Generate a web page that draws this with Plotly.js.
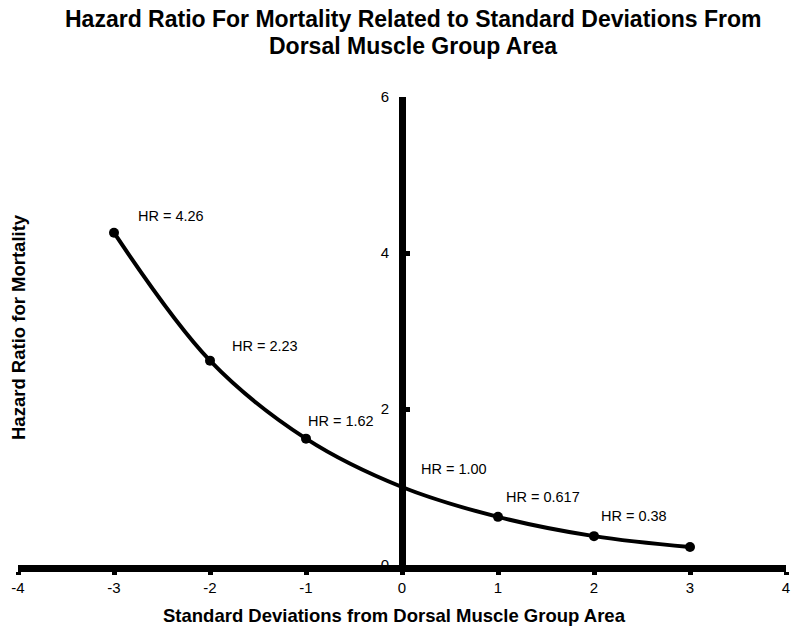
<!DOCTYPE html>
<html>
<head>
<meta charset="utf-8">
<script src="https://cdn.plot.ly/plotly-3.0.1.min.js"></script>
<style>html,body{margin:0;padding:0;background:#fff;}#chart{width:800px;height:633px;}</style>
</head>
<body>
<div id="chart"></div>
<script>
// Data
const sdValues = [-3, -2, -1, 0, 1, 2, 3];
const hazardRatios = [4.26, 2.62, 1.62, 1.00, 0.617, 0.37, 0.23];
const markerSd = [-3, -2, -1, 1, 2, 3];
const markerHr = [4.26, 2.62, 1.62, 0.617, 0.37, 0.23];
const labelTexts = ["HR = 4.26", "HR = 2.23", "HR = 1.62", "HR = 1.00", "HR = 0.617", "HR = 0.38"];
const xTicks = [-4, -3, -2, -1, 0, 1, 2, 3, 4];
const yTicks = [0, 2, 4, 6];
const titleLines = ["Hazard Ratio For Mortality Related to Standard Deviations From", "Dorsal Muscle Group Area"];
const xTitle = "Standard Deviations from Dorsal Muscle Group Area";
const yTitle = "Hazard Ratio for Mortality";

// label offsets (pixels) relative to the point on the curve
const labelOffsets = [[22, 17], [20, 15], [0, 18], [17, 18], [6, 20], [5, 20]];

const font = "Liberation Sans, Arial, Helvetica, sans-serif";
const W = 800, H = 633, M = {l: 18, r: 14, t: 97, b: 68};
const plotW = W - M.l - M.r, plotH = H - M.t - M.b;
const px2x = p => (p - M.l) / plotW;
const py2y = p => 1 - (p - M.t) / plotH;

const traces = [
  {
    x: sdValues, y: hazardRatios, type: 'scatter', mode: 'lines',
    line: {color: '#000', width: 4, shape: 'spline', smoothing: 1},
    hoverinfo: 'skip', showlegend: false, cliponaxis: false
  },
  {
    x: markerSd, y: markerHr, type: 'scatter', mode: 'markers',
    marker: {color: '#000', size: 10},
    showlegend: false, cliponaxis: false
  }
];

const annotations = labelTexts.map((t, i) => ({
  x: sdValues[i], y: hazardRatios[i], xref: 'x', yref: 'y',
  text: t, showarrow: false, xanchor: 'left', yanchor: 'middle',
  xshift: labelOffsets[i][0], yshift: labelOffsets[i][1],
  font: {family: font, size: 14.5, color: '#000'}
}));

// title lines
const titleCentersY = [19, 46];
titleLines.forEach((t, i) => annotations.push({
  xref: 'paper', yref: 'paper', x: px2x(413), y: py2y(titleCentersY[i]),
  xanchor: 'center', yanchor: 'middle', showarrow: false,
  text: '<b>' + t + '</b>', font: {family: font, size: 23, color: '#000'}
}));

// axis titles
annotations.push({
  xref: 'paper', yref: 'paper', x: px2x(394), y: py2y(615),
  xanchor: 'center', yanchor: 'middle', showarrow: false,
  text: '<b>' + xTitle + '</b>', font: {family: font, size: 18.5, color: '#000'}
});
annotations.push({
  xref: 'paper', yref: 'paper', x: px2x(18), y: py2y(327),
  xanchor: 'center', yanchor: 'middle', textangle: -90, showarrow: false,
  text: '<b>' + yTitle + '</b>', font: {family: font, size: 18.5, color: '#000'}
});

const layout = {
  width: W, height: H,
  paper_bgcolor: '#fff', plot_bgcolor: '#fff',
  margin: M,
  xaxis: {
    range: [-4, 4], tickvals: xTicks, ticktext: xTicks.map(String),
    showgrid: false, zeroline: false, showline: true, linecolor: '#000', linewidth: 7,
    ticks: 'outside', ticklen: 3, tickwidth: 5, tickcolor: '#000',
    tickfont: {family: font, size: 15, color: '#000'},
    fixedrange: true
  },
  yaxis: {
    range: [0, 6], tickvals: yTicks, ticktext: yTicks.map(String),
    anchor: 'free', position: 0.5,
    showgrid: false, zeroline: false, showline: true, linecolor: '#000', linewidth: 7,
    ticks: 'inside', ticklen: 4, tickwidth: 5, tickcolor: '#000',
    ticklabelstandoff: 7,
    tickfont: {family: font, size: 15, color: '#000'},
    fixedrange: true
  },
  annotations: annotations
};

Plotly.newPlot('chart', traces, layout, {displayModeBar: false, staticPlot: true});
</script>
</body>
</html>
